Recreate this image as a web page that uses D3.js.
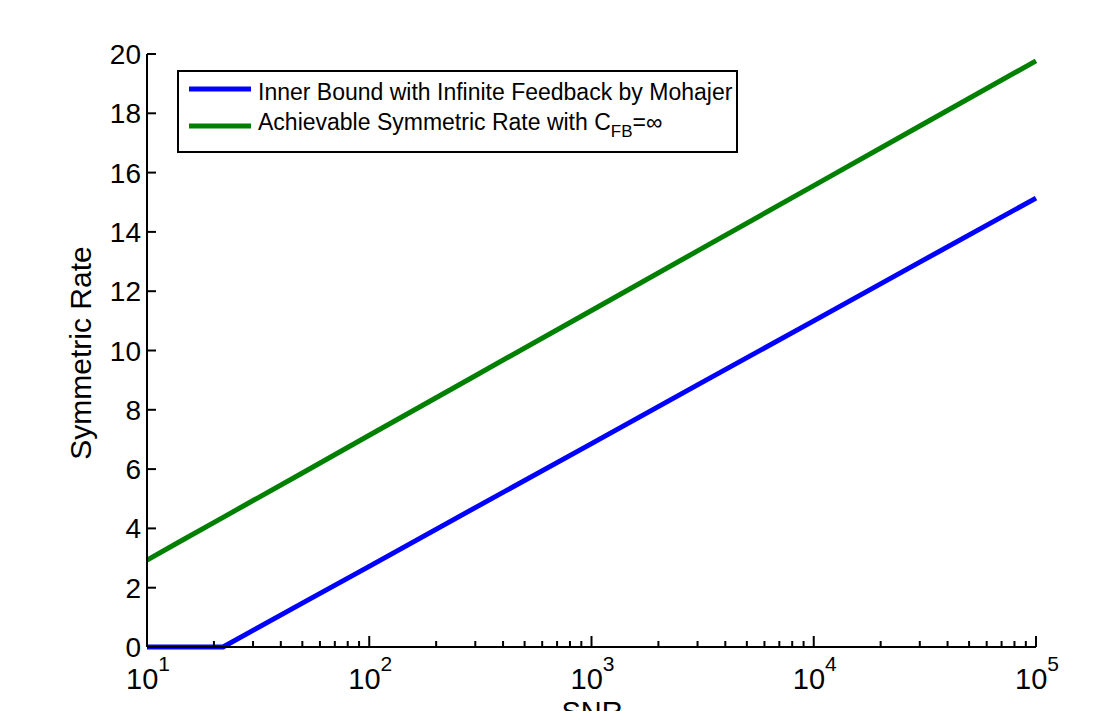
<!DOCTYPE html>
<html>
<head>
<meta charset="utf-8">
<script src="https://cdn.jsdelivr.net/npm/d3@7"></script>
<style>
  body { margin: 0; background: #fff; }
  svg { display: block; font-family: "Liberation Sans", Arial, sans-serif; }
</style>
</head>
<body>
<div id="chart"></div>
<script>
// SNR sample points (x axis, log scale)
var snr = [10, 14, 22, 30, 50, 100, 300, 1000, 3000, 10000, 30000, 100000];
// inner bound (blue) and achievable rate (green)
var innerBound = [0, 0, 0, 0.56, 1.48, 2.72, 4.70, 6.86, 8.84, 11.0, 12.98, 15.14];
var achievable = [2.93, 3.55, 4.37, 4.94, 5.87, 7.14, 9.15, 11.35, 13.36, 15.56, 17.57, 19.77];

var yTicks = [0, 2, 4, 6, 8, 10, 12, 14, 16, 18, 20];
var xDecades = [10, 100, 1000, 10000, 100000];
var xExp = ["1", "2", "3", "4", "5"];

var legendNames = ["Inner Bound with Infinite Feedback by Mohajer", "Achievable Symmetric Rate with C"];
var colors = ["#0000ff", "#008000"];

var W = 1096, H = 711;

var svg = d3.select("#chart").append("svg")
  .attr("width", W)
  .attr("height", H);

var x = d3.scaleLog().domain([10, 100000]).range([147, 1036]);
var y = d3.scaleLinear().domain([0, 20]).range([647, 54]);

// minor ticks for the log axis
var minor = [];
xDecades.slice(0, 4).forEach(function (d) {
  for (var k = 2; k <= 9; k++) minor.push(d * k);
});

// data lines
var line = d3.line()
  .x(function (d) { return x(d[0]); })
  .y(function (d) { return y(d[1]); });

[innerBound, achievable].forEach(function (vals, i) {
  svg.append("path")
    .datum(snr.map(function (s, j) { return [s, vals[j]]; }))
    .attr("d", line)
    .attr("fill", "none")
    .attr("stroke", colors[i])
    .attr("stroke-width", 5);
});

// axes lines
svg.append("line")
  .attr("x1", x(10)).attr("x2", x(10))
  .attr("y1", y(0)).attr("y2", y(20))
  .attr("stroke", "#000").attr("stroke-width", 2);
svg.append("line")
  .attr("x1", x(10)).attr("x2", x(100000))
  .attr("y1", y(0)).attr("y2", y(0))
  .attr("stroke", "#000").attr("stroke-width", 2);

// y ticks (pointing inward) and labels
svg.selectAll(".ytick").data(yTicks).enter().append("line")
  .attr("x1", x(10)).attr("x2", x(10) + 9)
  .attr("y1", function (d) { return y(d); })
  .attr("y2", function (d) { return y(d); })
  .attr("stroke", "#000").attr("stroke-width", 2);

svg.selectAll(".ylab").data(yTicks).enter().append("text")
  .attr("x", 141)
  .attr("y", function (d) { return y(d) + 10; })
  .attr("text-anchor", "end")
  .attr("font-size", 28)
  .text(function (d) { return d; });

// x ticks
svg.selectAll(".xmaj").data(xDecades).enter().append("line")
  .attr("x1", function (d) { return x(d); })
  .attr("x2", function (d) { return x(d); })
  .attr("y1", y(0)).attr("y2", y(0) - 11)
  .attr("stroke", "#000").attr("stroke-width", 2);

svg.selectAll(".xmin").data(minor).enter().append("line")
  .attr("x1", function (d) { return x(d); })
  .attr("x2", function (d) { return x(d); })
  .attr("y1", y(0)).attr("y2", y(0) - 6)
  .attr("stroke", "#000").attr("stroke-width", 2);

// x tick labels with superscript exponents
var xl = svg.selectAll(".xlab").data(xDecades).enter().append("text")
  .attr("x", function (d) { return x(d) + 1; })
  .attr("y", 689)
  .attr("text-anchor", "middle")
  .attr("font-size", 29);
xl.append("tspan").text("10");
xl.append("tspan")
  .attr("font-size", 21)
  .attr("dy", -18)
  .text(function (d, i) { return xExp[i]; });

// axis titles
svg.append("text")
  .attr("transform", "translate(91," + 353 + ") rotate(-90)")
  .attr("text-anchor", "middle")
  .attr("font-size", 30)
  .text("Symmetric Rate");

svg.append("text")
  .attr("x", 592)
  .attr("y", 722)
  .attr("text-anchor", "middle")
  .attr("font-size", 29)
  .text("SNR");

// legend
var lg = svg.append("g");
lg.append("rect")
  .attr("x", 178).attr("y", 71)
  .attr("width", 559).attr("height", 81)
  .attr("fill", "#fff")
  .attr("stroke", "#000").attr("stroke-width", 2);

var textBase = [100, 130];
legendNames.forEach(function (name, i) {
  var ly = 89 + i * 37;
  lg.append("line")
    .attr("x1", 189).attr("x2", 251)
    .attr("y1", ly).attr("y2", ly)
    .attr("stroke", colors[i]).attr("stroke-width", 5);
  var t = lg.append("text")
    .attr("x", 258).attr("y", textBase[i])
    .attr("font-size", 23)
    .text(name);
  if (i == 1) {
    t.append("tspan").attr("font-size", 17).attr("dy", 7).text("FB");
    t.append("tspan").attr("dy", -7).text("=\u221e");
  }
});
</script>
</body>
</html>
